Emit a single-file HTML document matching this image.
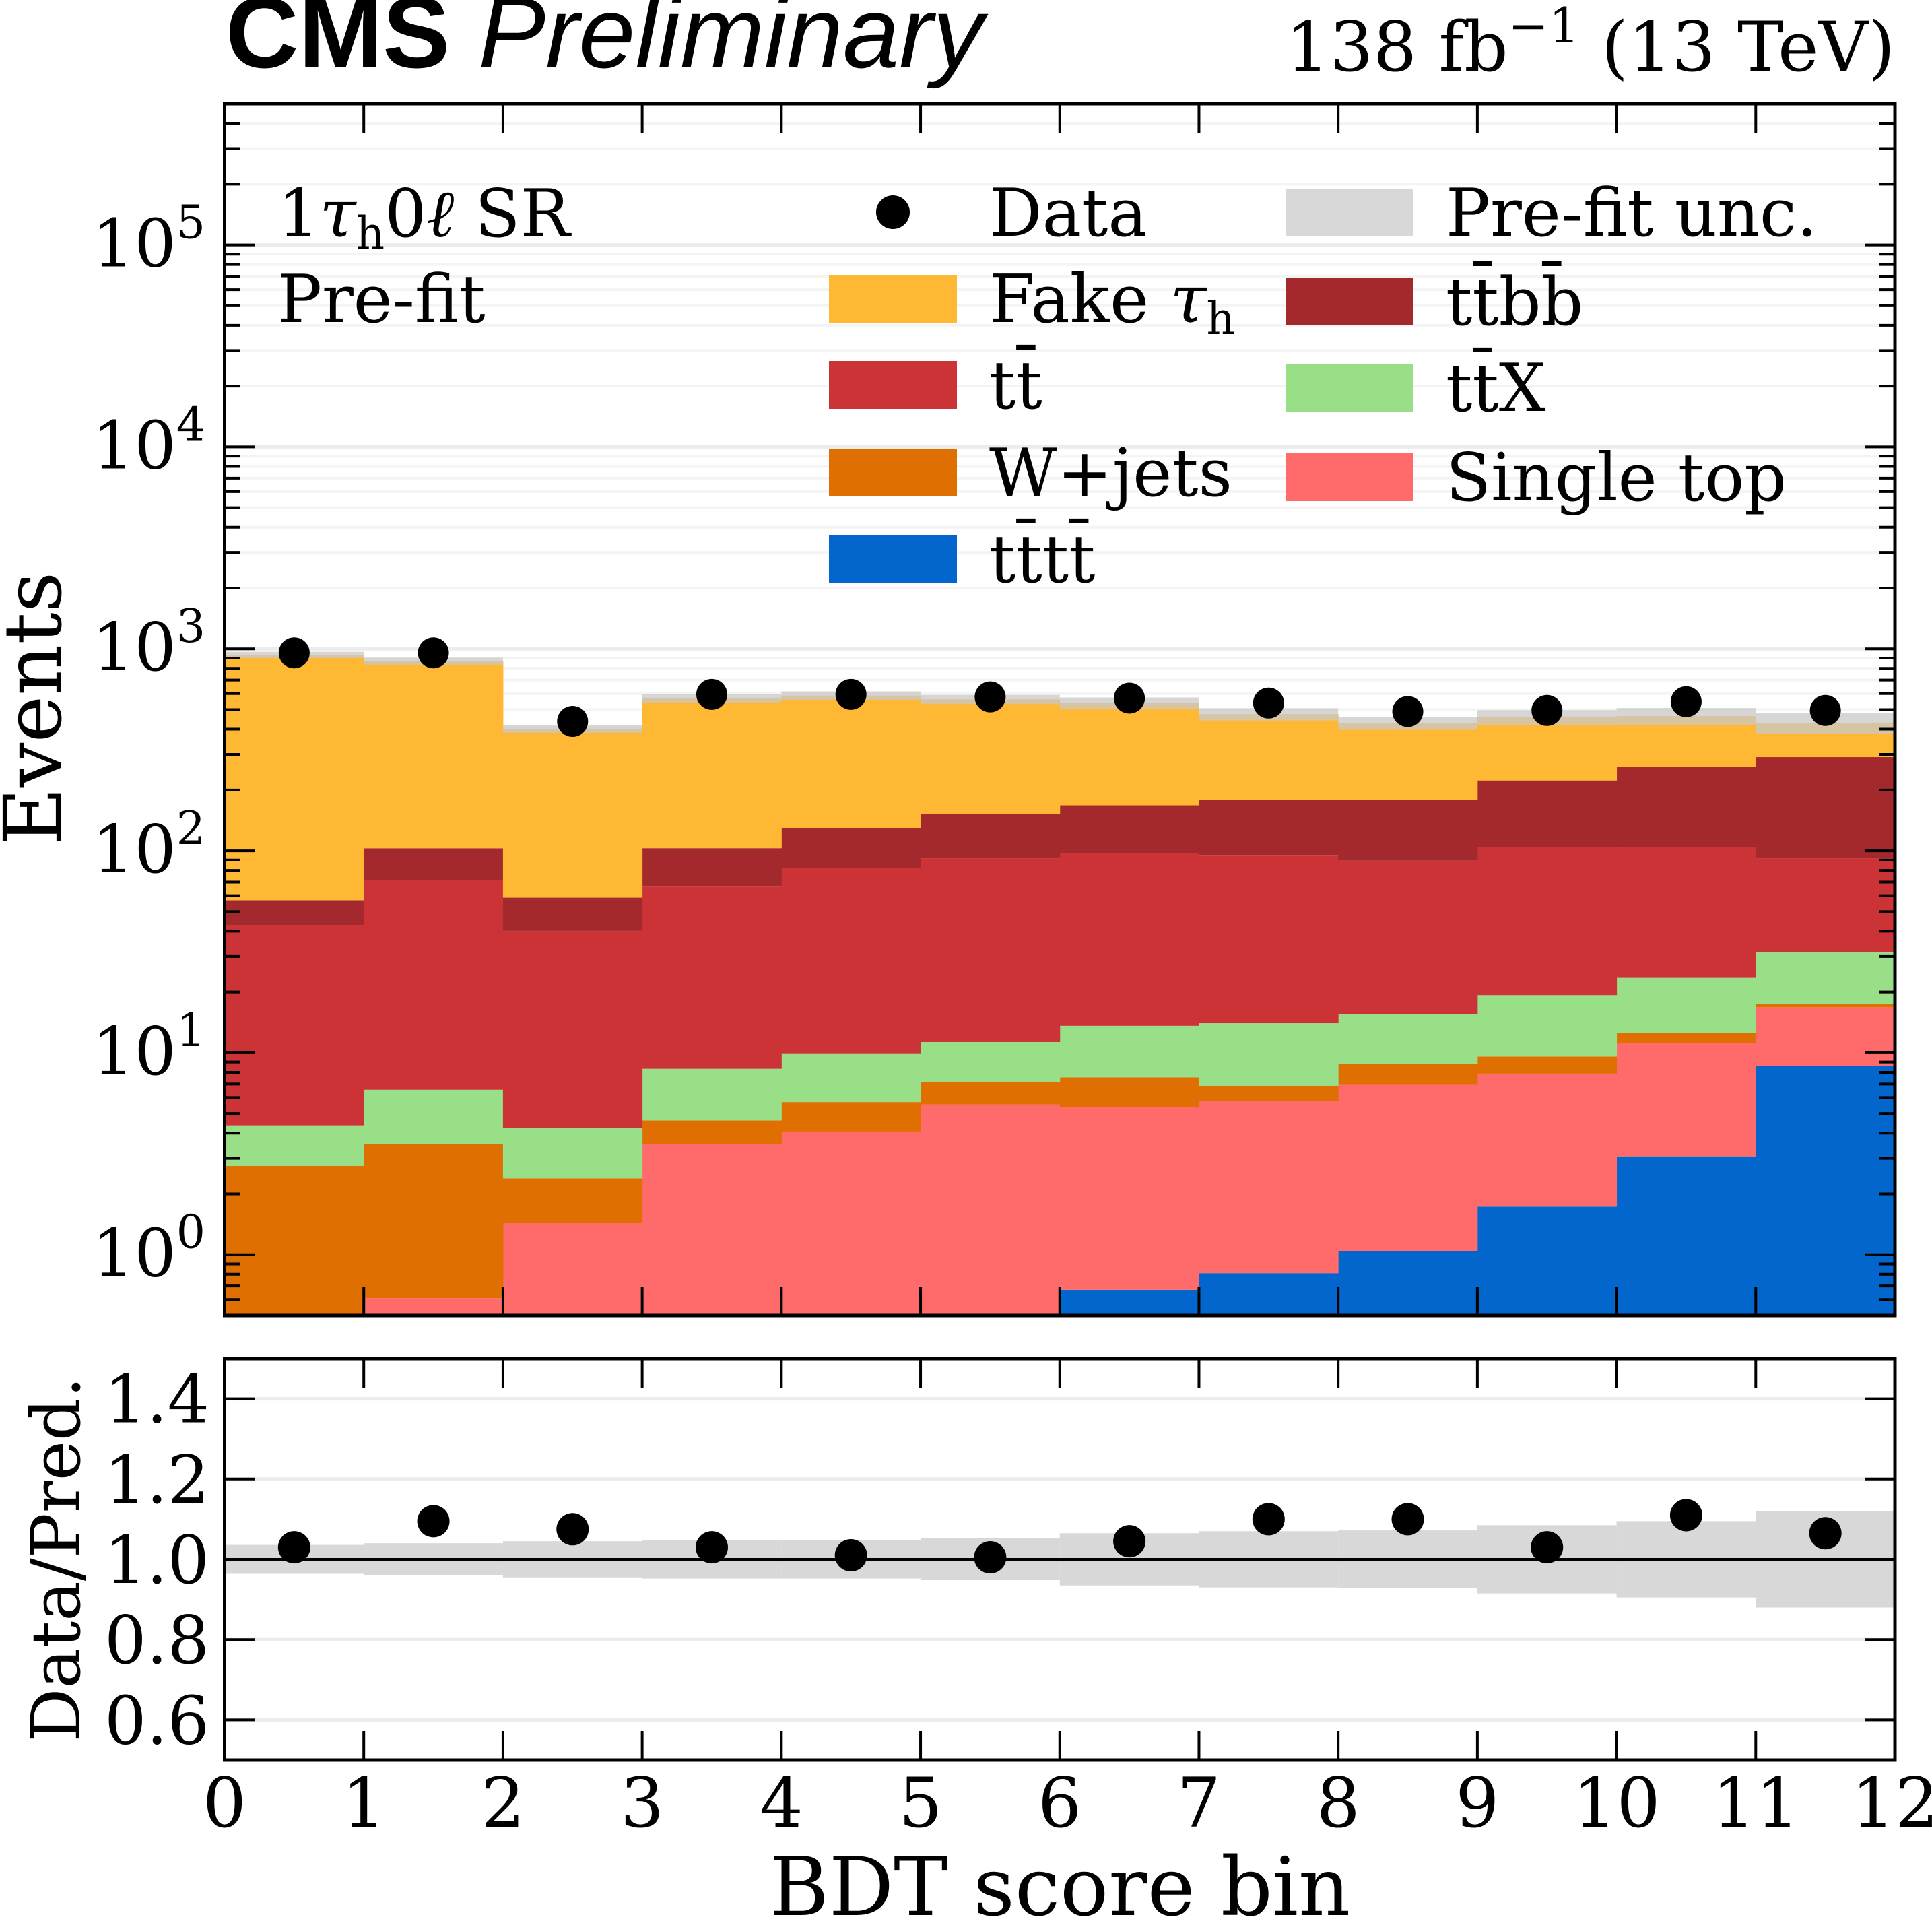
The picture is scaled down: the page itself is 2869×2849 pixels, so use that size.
<!DOCTYPE html>
<html><head><meta charset="utf-8"><style>
html,body{margin:0;padding:0;background:#fff}
svg{display:block}
text{font-family:"DejaVu Serif","Liberation Serif",serif;fill:#000}
</style></head><body>
<svg id="chart" xmlns="http://www.w3.org/2000/svg" width="2869" height="2849" viewBox="0 0 2869 2849">
<text x="335" y="100" style="font-family:'Liberation Sans',sans-serif;font-weight:bold;font-size:150px">CMS <tspan style="font-weight:normal;font-style:italic">Preliminary</tspan></text>
<text x="2814" y="105" text-anchor="end" font-size="102">138 fb<tspan dy="-42" font-size="72">−1</tspan><tspan dy="42"> (13 TeV)</tspan></text>
<g id="main"></g>
<g id="ratio"></g>
<text transform="translate(90,1052) rotate(-90)" text-anchor="middle" font-size="118">Events</text>
<text transform="translate(118,2315) rotate(-90)" text-anchor="middle" font-size="100">Data/Pred.</text>
<text x="1574" y="2843" text-anchor="middle" font-size="120">BDT score bin</text>
<text x="412" y="351" font-size="98">1<tspan font-style="italic">τ</tspan><tspan font-size="66" dy="18">h</tspan><tspan dy="-18">0<tspan font-style="italic">ℓ</tspan> SR</tspan></text>
<text x="412" y="478" font-size="98">Pre-fit</text>
<g id="legend"></g>
</svg>
<script>
const categories = [0,1,2,3,4,5,6,7,8,9,10,11];
const tttt   = [0,0,0,0,0,0,0.67,0.81,1.04,1.73,3.07,8.57];
const singleTop = [0,0.61,1.44,3.54,4.07,5.55,4.73,4.97,5.9,6.15,8.13,8.23];
const wjets  = [2.75,2.93,0.95,1.08,1.63,1.59,2.15,1.07,1.86,1.71,1.3,0.7];
const ttx    = [1.62,3.02,1.86,3.71,4.16,4.16,6.05,7.15,6.7,9.71,11.0,14.1];
const ttbar  = [38.6,64.8,35.9,58.2,72.1,80.6,83.6,80.6,73.9,84.7,80.5,60.3];
const ttbb   = [14,31.6,18.5,36.5,47,60,70.8,83.4,88.6,119,156,199];
const fake   = [876,766,343,467,458,410,371,297,250,235,205,140];
const dataVals = [955,955,437,595,595,578,570,539,489,495,547,495];
const ratioVals = [1.03,1.095,1.075,1.03,1.01,1.005,1.045,1.10,1.10,1.03,1.11,1.065];
const ratioErr = [0.015,0.015,0.03,0.015,0.015,0.015,0.02,0.025,0.03,0.025,0.025,0.03];
const relUnc = [0.036,0.04,0.045,0.048,0.048,0.052,0.065,0.07,0.072,0.085,0.095,0.12];
const yTickExp = [0,1,2,3,4,5];
const ratioTicks = [0.6,0.8,1.0,1.2,1.4];
const xTickLabels = ["0","1","2","3","4","5","6","7","8","9","10","11","12"];

const NS="http://www.w3.org/2000/svg";
const X0=333.5, X1=2814, MT=154, MB=1953, RT=2017, RB=2613;
const LMIN=Math.log10(0.5), LMAX=Math.log10(5e5);
const x = v => X0 + (X1-X0)*v/12;
const y = v => MB - (MB-MT)*(Math.log10(Math.max(v,1e-6))-LMIN)/(LMAX-LMIN);
const yr = v => RB - (RB-RT)*(v-0.5)/1.0;
function mk(tag,attrs,parent){const e=document.createElementNS(NS,tag);for(const k in attrs)e.setAttribute(k,attrs[k]);parent.appendChild(e);return e;}
const main=document.getElementById('main'), ratio=document.getElementById('ratio'), legend=document.getElementById('legend');

for(let d=-1;d<=5;d++){for(let m=1;m<=9;m++){const v=m*Math.pow(10,d);if(v<0.5||v>5e5)continue;
 const g=mk('line',{x1:X0,x2:X1,y1:y(v),y2:y(v),stroke:m===1?'#ececec':'#f4f4f4','stroke-width':m===1?5:4},main);
 
 }}

const series=[
 {name:'tttt',vals:tttt,color:'#0366cc'},
 {name:'single-top',vals:singleTop,color:'#ff6b6b'},
 {name:'wjets',vals:wjets,color:'#df6f00'},
 {name:'ttx',vals:ttx,color:'#98df88'},
 {name:'ttbar',vals:ttbar,color:'#cc3336'},
 {name:'ttbb',vals:ttbb,color:'#a3292c'},
 {name:'fake-tau',vals:fake,color:'#ffb833'}];
const cum=categories.map(()=>0);
series.forEach(s=>{categories.forEach((c,i)=>{
 const lo=cum[i], hi=cum[i]+s.vals[i]; cum[i]=hi;
 if(s.vals[i]<=0)return;
 const yb=Math.min(y(Math.max(lo,0.5)),MB), yt=y(hi);
 if(yt>=MB)return;
 const r=mk('rect',{x:x(c),y:yt,width:x(c+1)-x(c)+0.5,height:yb-yt,fill:s.color},main);
 
 
});});
categories.forEach((c,i)=>{const t=cum[i];
 const r=mk('rect',{x:x(c),y:y(t*(1+relUnc[i])),width:x(c+1)-x(c),height:y(t*(1-relUnc[i]))-y(t*(1+relUnc[i])),fill:'#c8c8c8','fill-opacity':0.75},main);
 
 });
categories.forEach((c,i)=>{
 const p=mk('circle',{cx:x(c+0.5),cy:y(dataVals[i]),r:23,fill:'#000'},main);
 
 });
mk('rect',{x:X0,y:MT,width:X1-X0,height:MB-MT,fill:'none',stroke:'#000','stroke-width':5},main);
for(let d=-1;d<=5;d++){for(let m=1;m<=9;m++){const v=m*Math.pow(10,d);if(v<0.5||v>5e5)continue;const L=m===1?45:23;
 mk('line',{x1:X0,x2:X0+L,y1:y(v),y2:y(v),stroke:'#000','stroke-width':4},main);
 mk('line',{x1:X1-L,x2:X1,y1:y(v),y2:y(v),stroke:'#000','stroke-width':4},main);}}
yTickExp.forEach(e=>{const t=mk('text',{x:305,y:y(Math.pow(10,e))+32,'text-anchor':'end','font-size':98},main);
 
 
 t.innerHTML='10<tspan dy="-42" font-size="68">'+e+'</tspan>';});
for(let k=1;k<12;k++){mk('line',{x1:x(k),x2:x(k),y1:MT,y2:MT+43,stroke:'#000','stroke-width':4},main);
 mk('line',{x1:x(k),x2:x(k),y1:MB-43,y2:MB,stroke:'#000','stroke-width':4},main);}

ratioTicks.forEach(v=>{const g=mk('line',{x1:X0,x2:X1,y1:yr(v),y2:yr(v),stroke:'#ececec','stroke-width':5},ratio);
 
 });
categories.forEach((c,i)=>{
 const r=mk('rect',{x:x(c),y:yr(1+relUnc[i]),width:x(c+1)-x(c),height:yr(1-relUnc[i])-yr(1+relUnc[i]),fill:'#d8d8d8'},ratio);
 
 });
mk('line',{x1:X0,x2:X1,y1:yr(1),y2:yr(1),stroke:'#000','stroke-width':4},ratio);
categories.forEach((c,i)=>{
 mk('line',{x1:x(c+0.5),x2:x(c+0.5),y1:yr(ratioVals[i]+ratioErr[i])-4,y2:yr(ratioVals[i]-ratioErr[i])+4,stroke:'#000','stroke-width':6},ratio);
 const p=mk('circle',{cx:x(c+0.5),cy:yr(ratioVals[i]),r:24,fill:'#000'},ratio);
 
 });
mk('rect',{x:X0,y:RT,width:X1-X0,height:RB-RT,fill:'none',stroke:'#000','stroke-width':5},ratio);
ratioTicks.forEach(v=>{mk('line',{x1:X0,x2:X0+45,y1:yr(v),y2:yr(v),stroke:'#000','stroke-width':4},ratio);
 mk('line',{x1:X1-45,x2:X1,y1:yr(v),y2:yr(v),stroke:'#000','stroke-width':4},ratio);
 const t=mk('text',{x:311,y:yr(v)+35,'text-anchor':'end','font-size':98},ratio);
 
 
 t.textContent=v.toFixed(1);});
for(let k=1;k<12;k++){mk('line',{x1:x(k),x2:x(k),y1:RT,y2:RT+43,stroke:'#000','stroke-width':4},ratio);
 mk('line',{x1:x(k),x2:x(k),y1:RB-43,y2:RB,stroke:'#000','stroke-width':4},ratio);}
xTickLabels.forEach((l,k)=>{const t=mk('text',{x:x(k),y:2712,'text-anchor':'middle','font-size':102},ratio);
 
 
 t.textContent=l;});

const legItems=[
 {px:1231,cy:315,txt:'Data',dot:true},
 {px:1231,cy:443,txt:'Fake <tspan font-style="italic">τ</tspan><tspan font-size="66" dy="18">h</tspan>',color:'#ffb833'},
 {px:1231,cy:571,txt:'tt\u0304',color:'#cc3336'},
 {px:1231,cy:701,txt:'W+jets',color:'#df6f00'},
 {px:1231,cy:829,txt:'tt\u0304tt\u0304',color:'#0366cc'},
 {px:1909,cy:315,txt:'Pre-fit unc.',color:'#d8d8d8'},
 {px:1909,cy:447,txt:'tt\u0304bb\u0304',color:'#a3292c'},
 {px:1909,cy:575,txt:'tt\u0304X',color:'#98df88'},
 {px:1909,cy:708,txt:'Single top',color:'#ff6b6b'}];
legItems.forEach(it=>{
 const g=mk('g',{},legend);
 
 
 if(it.dot) mk('circle',{cx:it.px+95,cy:it.cy,r:25,fill:'#000'},g);
 else mk('rect',{x:it.px,y:it.cy-35,width:190,height:71,fill:it.color},g);
 const t=mk('text',{x:it.px+238,y:it.cy+35,'font-size':98},g);
 t.innerHTML=it.txt;});
</script>
</body></html>
